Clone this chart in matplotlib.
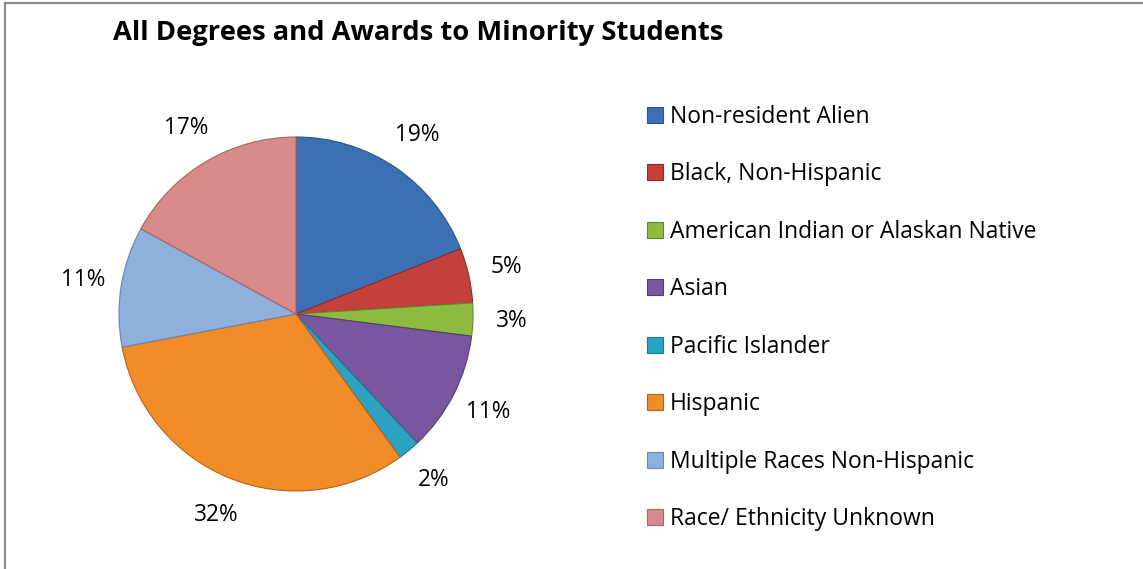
import matplotlib
matplotlib.use("Agg")
import matplotlib.pyplot as plt
from matplotlib.patches import Patch
from matplotlib.lines import Line2D

categories = ["Non-resident Alien", "Black, Non-Hispanic", "American Indian or Alaskan Native",
              "Asian", "Pacific Islander", "Hispanic", "Multiple Races Non-Hispanic",
              "Race/ Ethnicity Unknown"]
values = [19, 5, 3, 11, 2, 32, 11, 17]
pct_labels = ["19%", "5%", "3%", "11%", "2%", "32%", "11%", "17%"]
colors = ["#3b70b4", "#c4403d", "#8dba40", "#7a56a1", "#2ea2c2", "#f28c28", "#8fafdc", "#d98b8b"]
edges = ["#2b5587", "#8e2c2a", "#62862a", "#553b73", "#1e7690", "#b4621a", "#6a86ae", "#a86464"]

plt.rcParams['font.family'] = ['Open Sans', 'DejaVu Sans']
W, H = 1143, 569
fig = plt.figure(figsize=(W / 100, H / 100), dpi=100)
fig.patch.set_facecolor("white")

# border (top and left visible)
fig.add_artist(Line2D([4.5 / W, 4.5 / W], [0, 1 - 2.5 / H], color="#8c8c8c", lw=1.6))
fig.add_artist(Line2D([4.5 / W, 1], [1 - 2.5 / H, 1 - 2.5 / H], color="#8c8c8c", lw=1.6))

cx, cy, R = 296, 314, 177
ax = fig.add_axes([(cx - R) / W, (H - cy - R) / H, 2 * R / W, 2 * R / H])
wedges, texts = ax.pie(values, labels=pct_labels, colors=colors, startangle=90,
                       counterclock=False, labeldistance=1.22,
                       wedgeprops=dict(linewidth=0.8), radius=1,
                       textprops=dict(fontsize=16.3, color="black"))
for w, ec in zip(wedges, edges):
    w.set_edgecolor(ec)
for t in texts:
    t.set_ha("center")
    t.set_va("center")
ax.set_xlim(-1, 1)
ax.set_ylim(-1, 1)
ax.set_aspect("auto")
ax.axis("off")

fig.text(113 / W, 1 - 33 / H, "All Degrees and Awards to Minority Students",
         fontsize=19.7, fontweight="bold", ha="left", va="center")

handles = [Patch(facecolor=c, edgecolor=e, linewidth=0.8) for c, e in zip(colors, edges)]
leg = fig.legend(handles, categories, loc="upper left",
                 bbox_to_anchor=(647 / W, 1 - 105 / H), frameon=False,
                 fontsize=16.5, handlelength=0.7, handleheight=0.7,
                 handletextpad=0.3, labelspacing=1.46, borderaxespad=0, borderpad=0)
fig.savefig("out.png", dpi=100, facecolor="white")
